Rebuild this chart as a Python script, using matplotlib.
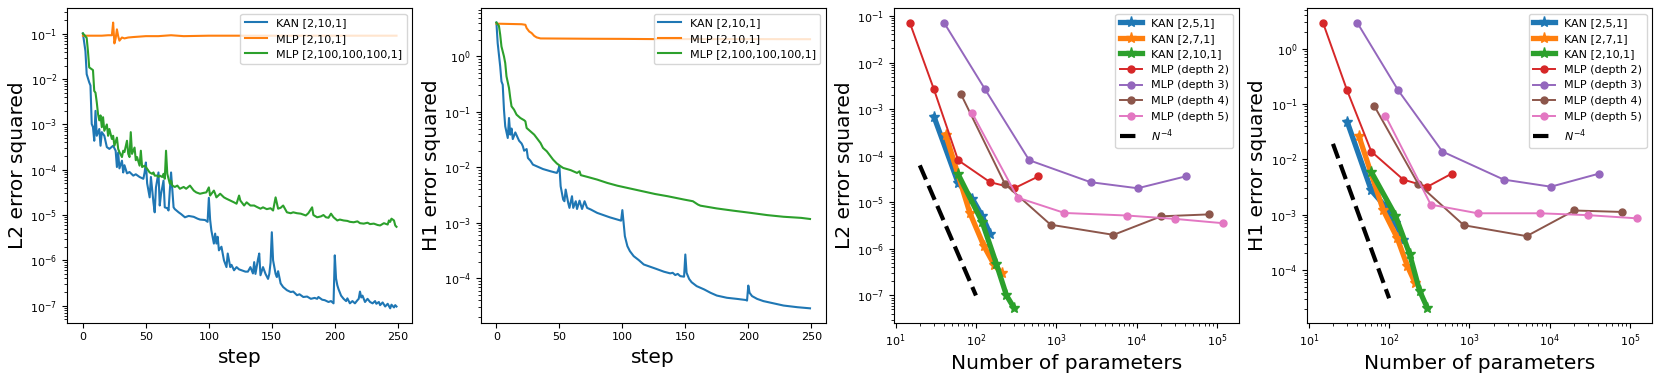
import numpy as np
import matplotlib
matplotlib.use('Agg')
from matplotlib import pyplot as plt

plt.rcParams['font.size'] = 8

# ---- training curves, L2 (log10 of error) ----
kan_l2_step = [0, 2, 3, 5, 6, 7, 8, 9, 10, 11, 13, 14, 15, 17, 19, 21, 24, 26, 27, 28, 29, 31, 32, 33, 35, 37, 40, 42, 45, 48, 49,
               50, 51, 53, 54, 56, 57, 58, 60, 61, 62, 64, 65, 67, 68, 69, 70, 72, 73, 76, 78, 81, 84, 88, 91, 93, 97, 99,
               100, 101, 102, 104, 105, 106, 107, 108, 110, 112, 114, 115, 117, 118, 120, 122, 124, 126, 129, 131, 133, 135,
               136, 137, 139, 140, 141, 143, 145, 147, 148, 149, 150, 151, 153, 154, 155, 157, 159, 162, 165, 167, 170, 172,
               175, 178, 181, 184, 186, 187, 190, 192, 195, 197, 199, 200, 201, 202, 203, 205, 207, 209, 210, 212, 214, 216,
               218, 219, 220, 221, 222, 224, 226, 228, 230, 232, 233, 235, 236, 238, 240, 242, 244, 245, 247, 248, 249]
kan_l2_log = [-0.99, -1.38, -1.89, -2.07, -2.14, -2.99, -3.06, -3.36, -2.70, -3.25, -3.10, -3.47, -3.17, -3.25, -3.50, -3.54,
              -3.47, -3.58, -3.94, -3.62, -3.97, -3.80, -4.06, -3.90, -4.08, -4.05, -4.13, -4.10, -4.16, -4.20, -4.06,
              -3.84, -4.30, -4.61, -4.16, -4.72, -4.94, -4.39, -4.06, -4.79, -4.54, -4.24, -4.83, -4.85, -4.90, -4.46, -4.06,
              -4.83, -4.87, -4.94, -4.98, -5.05, -5.02, -5.04, -5.08, -5.10, -5.11, -5.15,
              -4.62, -5.10, -5.34, -5.63, -5.41, -5.63, -5.48, -5.78, -5.70, -6.00, -6.15, -5.85, -6.15, -6.10, -6.22, -6.15,
              -6.20, -6.22, -6.25, -6.25, -6.15, -6.29, -6.04, -6.30, -5.98, -5.85, -6.33, -6.15, -6.30, -6.41, -6.30, -6.05,
              -5.38, -6.00, -6.30, -6.37, -6.24, -6.51, -6.59, -6.66, -6.70, -6.69, -6.77, -6.75, -6.81, -6.80, -6.85, -6.83,
              -6.85, -6.81, -6.87, -6.88, -6.92, -6.90, -6.95, -5.89, -6.40, -6.55, -6.64, -6.78, -6.85, -6.90, -6.84, -6.95,
              -6.90, -6.95, -6.88, -6.85, -6.69, -6.82, -6.78, -6.92, -6.85, -6.92, -6.95, -6.90, -6.96, -6.92, -6.99, -6.93,
              -7.02, -6.96, -7.06, -6.98, -7.04, -6.99, -7.02]

mlp_small_l2_step = [0, 5, 10, 15, 20, 23, 24, 25, 26, 27, 28, 29, 31, 33, 36, 40, 50, 60, 70, 80, 100, 125, 150, 175, 200, 225, 249]
mlp_small_l2_log = [-1.04, -1.04, -1.04, -1.04, -1.03, -1.03, -0.75, -1.21, -1.10, -0.90, -1.05, -1.15, -1.08, -1.10, -1.08,
                    -1.07, -1.05, -1.05, -1.03, -1.05, -1.04, -1.04, -1.04, -1.04, -1.04, -1.04, -1.04]

mlp_big_l2_step = [0, 1, 3, 4, 5, 7, 8, 9, 10, 11, 12, 13, 14, 15, 16, 17, 19, 20, 21, 23, 24, 25, 27, 28, 29, 31, 32, 33, 35,
                   36, 37, 38, 39, 41, 42, 43, 45, 46, 47, 49, 51, 52, 53, 55, 56, 57, 59, 60, 61, 63, 64, 65, 66, 67, 69, 70,
                   71, 73, 75, 77, 80, 82, 85, 88, 90, 93, 96, 98, 100, 101, 104, 105, 106, 109, 112, 114, 117, 120, 122, 124,
                   125, 128, 130, 133, 136, 138, 141, 143, 146, 149, 151, 153, 155, 157, 159, 162, 165, 167, 170, 173, 177, 179,
                   182, 183, 186, 189, 191, 193, 195, 197, 199, 202, 204, 207, 210, 212, 215, 218, 220, 223, 226, 228, 231, 234,
                   236, 239, 242, 243, 244, 245, 247, 248, 249]
mlp_big_l2_log = [-0.99, -1.02, -1.09, -1.38, -1.74, -1.78, -1.80, -2.26, -2.30, -2.51, -2.77, -2.91, -2.80, -3.06, -2.84, -3.14,
                  -3.00, -3.25, -3.10, -3.32, -3.25, -3.47, -3.29, -3.54, -3.61, -3.72, -3.58, -3.61, -3.36, -3.65, -3.72,
                  -3.17, -3.65, -3.51, -3.79, -3.72, -3.91, -3.58, -3.94, -3.91, -3.98, -4.02, -4.06, -4.09, -4.06, -4.13,
                  -4.13, -4.16, -4.13, -4.16, -4.09, -4.20, -3.58, -4.09, -4.31, -4.24, -4.35, -4.38, -4.35, -4.42, -4.38,
                  -4.42, -4.35, -4.46, -4.50, -4.53, -4.51, -4.50, -4.39, -4.57, -4.46, -4.53, -4.61, -4.53, -4.61, -4.64,
                  -4.68, -4.72, -4.75, -4.57, -4.68, -4.79, -4.72, -4.79, -4.79, -4.82, -4.86, -4.83, -4.87, -4.85, -4.90,
                  -4.61, -4.86, -4.84, -4.79, -4.94, -4.96, -4.94, -4.96, -4.97, -5.01, -4.96, -4.83, -5.00, -5.05, -5.03,
                  -5.00, -5.05, -5.06, -4.97, -5.05, -5.12, -5.10, -5.12, -5.13, -5.15, -5.16, -5.14, -5.18, -5.19, -5.17,
                  -5.20, -5.19, -5.22, -5.23, -5.18, -5.21, -5.12, -5.15, -5.08, -5.12, -5.23, -5.26]

# ---- training curves, H1 (log10 of error) ----
kan_h1_step = [0, 1, 3, 4, 5, 6, 7, 9, 10, 11, 12, 13, 15, 17, 18, 20, 21, 22, 24, 25, 27, 29, 33, 37, 43, 48, 49, 50, 51, 53,
               54, 55, 57, 58, 60, 61, 63, 64, 66, 68, 70, 72, 75, 80, 85, 90, 96, 99, 100, 101, 102, 104, 106, 109, 113,
               117, 122, 127, 133, 138, 140, 142, 144, 146, 149, 150, 151, 153, 155, 159, 165, 170, 175, 183, 191, 198, 199,
               200, 201, 203, 207, 212, 218, 228, 239, 249]
kan_h1_log = [0.61, 0.24, -0.18, -0.45, -0.51, -0.96, -1.26, -1.47, -1.11, -1.41, -1.30, -1.49, -1.37, -1.47, -1.52, -1.57,
              -1.62, -1.70, -1.67, -1.83, -1.88, -1.95, -1.99, -2.03, -2.07, -2.10, -2.05, -1.98, -2.34, -2.58, -2.61, -2.40,
              -2.64, -2.73, -2.52, -2.73, -2.61, -2.75, -2.60, -2.75, -2.61, -2.73, -2.76, -2.82, -2.86, -2.90, -2.94, -2.96,
              -2.77, -3.00, -3.24, -3.42, -3.51, -3.60, -3.67, -3.75, -3.79, -3.83, -3.88, -3.91, -3.90, -3.94, -3.92, -3.96,
              -3.97, -3.57, -3.90, -4.01, -4.07, -4.14, -4.20, -4.26, -4.31, -4.35, -4.37, -4.39, -4.40, -4.13, -4.26, -4.32,
              -4.37, -4.41, -4.44, -4.49, -4.52, -4.54]

mlp_small_h1_step = [0, 10, 20, 23, 24, 26, 28, 30, 32, 35, 48, 75, 100, 125, 150, 200, 249]
mlp_small_h1_log = [0.59, 0.585, 0.58, 0.57, 0.51, 0.45, 0.42, 0.37, 0.342, 0.324, 0.322, 0.318, 0.316, 0.312, 0.312, 0.312, 0.31]

mlp_big_h1_step = [0, 2, 3, 4, 6, 7, 8, 10, 11, 12, 14, 16, 19, 22, 23, 24, 27, 30, 32, 35, 37, 40, 43, 45, 48, 51, 53, 59, 64,
                   66, 67, 72, 80, 88, 96, 104, 112, 120, 126, 136, 149, 156, 158, 160, 162, 175, 188, 202, 215, 228, 242, 249]
mlp_big_h1_log = [0.61, 0.55, 0.39, 0.18, 0.0, -0.12, -0.36, -0.57, -0.75, -0.90, -0.96, -1.05, -1.11, -1.15, -1.17, -1.29,
                  -1.35, -1.41, -1.47, -1.56, -1.65, -1.71, -1.80, -1.86, -1.93, -1.98, -2.01, -2.05, -2.10, -2.07, -2.14,
                  -2.17, -2.22, -2.28, -2.33, -2.37, -2.41, -2.45, -2.48, -2.52, -2.58, -2.61, -2.64, -2.67, -2.69, -2.74,
                  -2.78, -2.82, -2.86, -2.89, -2.91, -2.93]

# ---- scaling with number of parameters ----
kan_251_n = [30, 60, 90, 120, 150]
kan_271_n = [42, 84, 126, 168, 210]
kan_2101_n = [60, 120, 180, 240, 300]
mlp_d2_n = [15, 30, 60, 150, 300, 600]
mlp_d3_n = [40, 130, 460, 2670, 10300, 40800]
mlp_d4_n = [65, 230, 850, 5150, 20200, 80100]
mlp_d5_n = [90, 330, 1265, 7550, 30000, 120000]
ref_n = [20, 100]

kan_251_l2 = [6.9e-4, 2.6e-5, 1.2e-5, 5.0e-6, 2.1e-6]
kan_271_l2 = [2.85e-4, 5.9e-6, 1.14e-6, 4.6e-7, 3.0e-7]
kan_2101_l2 = [4.0e-5, 3.7e-6, 4.7e-7, 1.0e-7, 5.3e-8]
mlp_d2_l2 = [0.072, 2.65e-3, 8.0e-5, 2.7e-5, 2.0e-5, 3.6e-5]
mlp_d3_l2 = [0.072, 2.65e-3, 8.0e-5, 2.7e-5, 2.0e-5, 3.6e-5]
mlp_d4_l2 = [2.1e-3, 2.45e-5, 3.3e-6, 2.0e-6, 5.0e-6, 5.5e-6]
mlp_d5_l2 = [8.1e-4, 1.26e-5, 5.9e-6, 5.2e-6, 4.4e-6, 3.55e-6]
ref_l2 = [6.2e-5, 1.0e-7]

kan_251_h1 = [0.048, 2.74e-3, 1.4e-3, 7.0e-4, 3.56e-4]
kan_271_h1 = [0.0264, 1.23e-3, 3.8e-4, 1.2e-4, 5.9e-5]
kan_2101_h1 = [5.9e-3, 9.6e-4, 1.95e-4, 4.2e-5, 2.04e-5]
mlp_d2_h1 = [2.94, 0.175, 0.0138, 4.3e-3, 3.2e-3, 5.5e-3]
mlp_d3_h1 = [2.94, 0.175, 0.0138, 4.3e-3, 3.2e-3, 5.5e-3]
mlp_d4_h1 = [0.093, 3.6e-3, 6.45e-4, 4.1e-4, 1.19e-3, 1.12e-3]
mlp_d5_h1 = [0.061, 1.52e-3, 1.06e-3, 1.06e-3, 9.8e-4, 8.6e-4]
ref_h1 = [1.9e-2, 3.1e-5]

fig = plt.figure(figsize=(16.6, 3.76), dpi=100)
lefts = [0.0405, 0.2896, 0.5386, 0.7875]
axs = [fig.add_axes([l, 0.142, 0.2078, 0.836]) for l in lefts]

# panels 1 and 2: training curves
curves = [
    (axs[0], 'L2 error squared',
     [(kan_l2_step, kan_l2_log), (mlp_small_l2_step, mlp_small_l2_log), (mlp_big_l2_step, mlp_big_l2_log)]),
    (axs[1], 'H1 error squared',
     [(kan_h1_step, kan_h1_log), (mlp_small_h1_step, mlp_small_h1_log), (mlp_big_h1_step, mlp_big_h1_log)]),
]
labels = ['KAN [2,10,1]', 'MLP [2,10,1]', 'MLP [2,100,100,100,1]']
for ax, ylab, series in curves:
    for (s, v), lab in zip(series, labels):
        ax.plot(s, 10**np.array(v), lw=1.5, label=lab)
    ax.set_yscale('log')
    ax.set_xlabel('step', fontsize=14.5)
    ax.set_ylabel(ylab, fontsize=14.5, labelpad=2)
    ax.set_xticks([0, 50, 100, 150, 200, 250])
    ax.legend(loc='upper right')

# panels 3 and 4: parameter scaling
scaling = [
    (axs[2], 'L2 error squared', [kan_251_l2, kan_271_l2, kan_2101_l2],
     [mlp_d2_l2, mlp_d3_l2, mlp_d4_l2, mlp_d5_l2], ref_l2),
    (axs[3], 'H1 error squared', [kan_251_h1, kan_271_h1, kan_2101_h1],
     [mlp_d2_h1, mlp_d3_h1, mlp_d4_h1, mlp_d5_h1], ref_h1),
]
kan_n = [kan_251_n, kan_271_n, kan_2101_n]
kan_labels = ['KAN [2,5,1]', 'KAN [2,7,1]', 'KAN [2,10,1]']
mlp_n = [mlp_d2_n, mlp_d3_n, mlp_d4_n, mlp_d5_n]
for ax, ylab, kan_err, mlp_err, ref in scaling:
    for n, e, lab in zip(kan_n, kan_err, kan_labels):
        ax.plot(n, e, marker='*', markersize=8, lw=3.8, label=lab)
    for d, (n, e) in enumerate(zip(mlp_n, mlp_err)):
        ax.plot(n, e, marker='o', markersize=5, lw=1.4, label='MLP (depth %d)' % (d + 2))
    ax.plot(ref_n, ref, ls='--', color='black', lw=3, label=r'$N^{-4}$')
    ax.set_xscale('log')
    ax.set_yscale('log')
    ax.set_xlabel('Number of parameters', fontsize=14.5)
    ax.set_ylabel(ylab, fontsize=14.5, labelpad=2)
    ax.legend(loc='upper right')

fig.savefig('out.png', dpi=100)
